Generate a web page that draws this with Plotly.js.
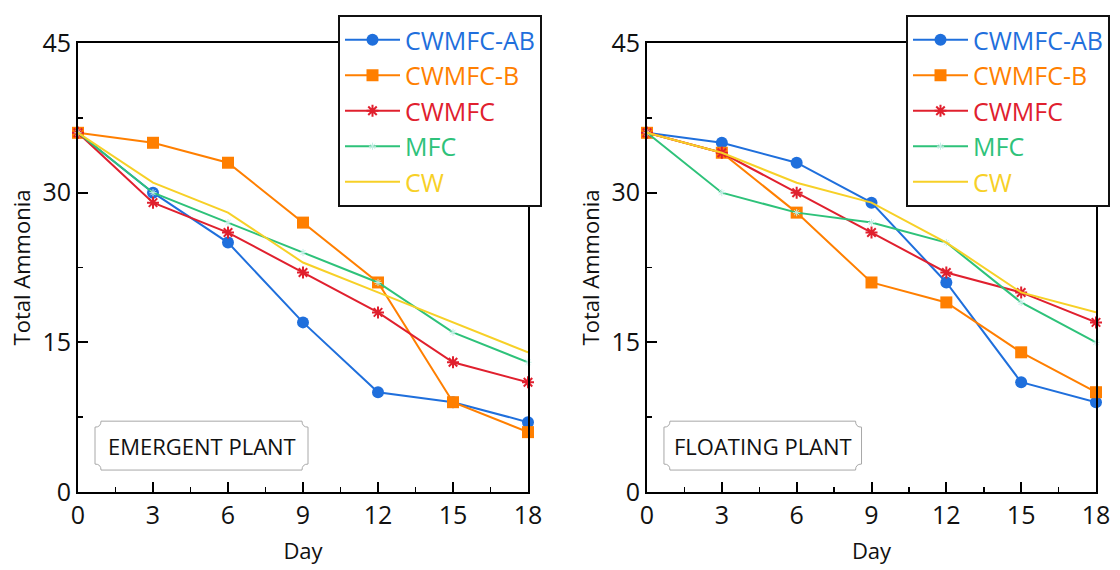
<!DOCTYPE html>
<html>
<head>
<meta charset="utf-8">
<script src="https://cdn.plot.ly/plotly-3.0.1.min.js"></script>
<style>html,body{margin:0;padding:0;background:#fff;}#chart{width:1120px;height:570px;}</style>
</head>
<body>
<div id="chart"></div>
<script>
// ---- data ----
const days = [0, 3, 6, 9, 12, 15, 18];
const seriesNames = ["CWMFC-AB", "CWMFC-B", "CWMFC", "MFC", "CW"];
const panelLabels = ["EMERGENT PLANT", "FLOATING PLANT"];

// Emergent plant
const emergentCWMFC_AB = [36, 30, 25, 17, 10, 9, 7];
const emergentCWMFC_B  = [36, 35, 33, 27, 21, 9, 6];
const emergentCWMFC    = [36, 29, 26, 22, 18, 13, 11];
const emergentMFC      = [36, 30, 27, 24, 21, 16, 13];
const emergentCW       = [36, 31, 28, 23, 20, 17, 14];

// Floating plant
const floatingCWMFC_AB = [36, 35, 33, 29, 21, 11, 9];
const floatingCWMFC_B  = [36, 34, 28, 21, 19, 14, 10];
const floatingCWMFC    = [36, 34, 30, 26, 22, 20, 17];
const floatingMFC      = [36, 30, 28, 27, 25, 19, 15];
const floatingCW       = [36, 34, 31, 29, 25, 20, 18];

const yTicks = [0, 15, 30, 45];
const xTicks = [0, 3, 6, 9, 12, 15, 18];

// ---- styles ----
const styles = [
  {color: "#1f6fdc", marker: {symbol: "circle", size: 12}, mode: "lines+markers"},
  {color: "#ff7f00", marker: {symbol: "square", size: 12}, mode: "lines+markers"},
  {color: "#e0202e", marker: {symbol: "asterisk-open", size: 10, line: {width: 2}}, mode: "lines+markers"},
  {color: "#2ec27a", marker: {symbol: "asterisk-open", size: 6, color: "#c4efe6", line: {width: 1, color: "#c4efe6"}}, mode: "lines+markers"},
  {color: "#f7d027", marker: {}, mode: "lines"}
];

const FONT = "Open Sans, Noto Sans, sans-serif";

function makeTraces(valuesList, xa, ya, legendId) {
  return valuesList.map((vals, i) => {
    const st = styles[i];
    const mk = Object.assign({color: st.color}, st.marker);
    if (st.marker.line && !st.marker.line.color) mk.line = Object.assign({color: st.color}, st.marker.line);
    return {
      x: days, y: vals, xaxis: xa, yaxis: ya,
      type: "scatter", mode: st.mode,
      name: '<span style="color:' + st.color + '">' + seriesNames[i] + '</span>',
      line: {color: st.color, width: 2},
      marker: mk,
      cliponaxis: false,
      legend: legendId
    };
  });
}

const traces = [].concat(
  makeTraces([emergentCWMFC_AB, emergentCWMFC_B, emergentCWMFC, emergentMFC, emergentCW], "x", "y", "legend"),
  makeTraces([floatingCWMFC_AB, floatingCWMFC_B, floatingCWMFC, floatingMFC, floatingCW], "x2", "y2", "legend2")
);

function xAxis(domain, anchor) {
  return {
    domain: domain, anchor: anchor, range: [0, 18],
    tickvals: xTicks, ticktext: xTicks.map(String),
    ticks: "inside", ticklen: 10, tickwidth: 2, tickcolor: "#000",
    minor: {ticks: "inside", ticklen: 5, tickwidth: 1.5, tickcolor: "#000", dtick: 1.5},
    showline: true, linecolor: "#000", linewidth: 2, mirror: true,
    showgrid: false, zeroline: false,
    tickfont: {family: FONT, size: 25, color: "#111"},
    title: {text: "Day", font: {family: FONT, size: 22, color: "#111"}, standoff: 14}
  };
}
function yAxis(domain, anchor) {
  return {
    domain: domain, anchor: anchor, range: [0, 45],
    tickvals: yTicks, ticktext: yTicks.map(String),
    ticks: "inside", ticklen: 10, tickwidth: 2, tickcolor: "#000",
    minor: {ticks: "inside", ticklen: 5, tickwidth: 1.5, tickcolor: "#000", dtick: 7.5},
    showline: true, linecolor: "#000", linewidth: 2, mirror: true,
    showgrid: false, zeroline: false,
    tickfont: {family: FONT, size: 25, color: "#111"},
    title: {text: "Total Ammonia", font: {family: FONT, size: 22, color: "#111"}, standoff: 6}
  };
}

function notchedBox(xref, yref, x0, x1, y0, y1, rx, ry) {
  const p = [
    "M", x0 + rx, y1,
    "L", x1 - rx, y1,
    "Q", x1 - rx, y1 - ry, x1, y1 - ry,
    "L", x1, y0 + ry,
    "Q", x1 - rx, y0 + ry, x1 - rx, y0,
    "L", x0 + rx, y0,
    "Q", x0 + rx, y0 + ry, x0, y0 + ry,
    "L", x0, y1 - ry,
    "Q", x0 + rx, y1 - ry, x0 + rx, y1,
    "Z"
  ];
  let s = "";
  for (let i = 0; i < p.length; i++) {
    if (typeof p[i] === "string") s += p[i];
    else s += p[i] + (typeof p[i + 1] === "number" ? "," : " ");
  }
  return {type: "path", xref: xref, yref: yref, path: s, line: {color: "#a8a8a8", width: 1}, fillcolor: "#fff", layer: "above"};
}

const W = 1120, H = 570;
const xd1 = [78 / W, 528 / W], xd2 = [647 / W, 1096 / W];
const yd = [(H - 492) / H, (H - 43) / H];

const legendStyle = {
  bgcolor: "#fff", bordercolor: "#111", borderwidth: 2,
  font: {family: FONT, size: 25},
  itemwidth: 55, tracegroupgap: 0,
  xanchor: "left", yanchor: "top"
};

const layout = {
  width: W, height: H,
  margin: {l: 0, r: 0, t: 0, b: 0},
  paper_bgcolor: "#fff", plot_bgcolor: "#fff",
  showlegend: true,
  xaxis: xAxis(xd1, "y"),
  yaxis: yAxis(yd, "x"),
  xaxis2: xAxis(xd2, "y2"),
  yaxis2: yAxis(yd, "x2"),
  legend: Object.assign({x: 338 / W, y: (H - 15) / H}, legendStyle),
  legend2: Object.assign({x: 906 / W, y: (H - 15) / H}, legendStyle),
  shapes: [
    notchedBox("x", "y", 0.68, 9.2, 2.2, 7.1, 0.24, 0.6),
    notchedBox("x2", "y2", 0.68, 8.6, 2.2, 7.1, 0.24, 0.6)
  ],
  annotations: [
    {xref: "x", yref: "y", x: 4.94, y: 4.65, text: panelLabels[0], showarrow: false,
     font: {family: FONT, size: 22, color: "#111"}},
    {xref: "x2", yref: "y2", x: 4.64, y: 4.65, text: panelLabels[1], showarrow: false,
     font: {family: FONT, size: 22, color: "#111"}}
  ]
};

Plotly.newPlot("chart", traces, layout, {displayModeBar: false, staticPlot: true});
</script>
</body>
</html>
